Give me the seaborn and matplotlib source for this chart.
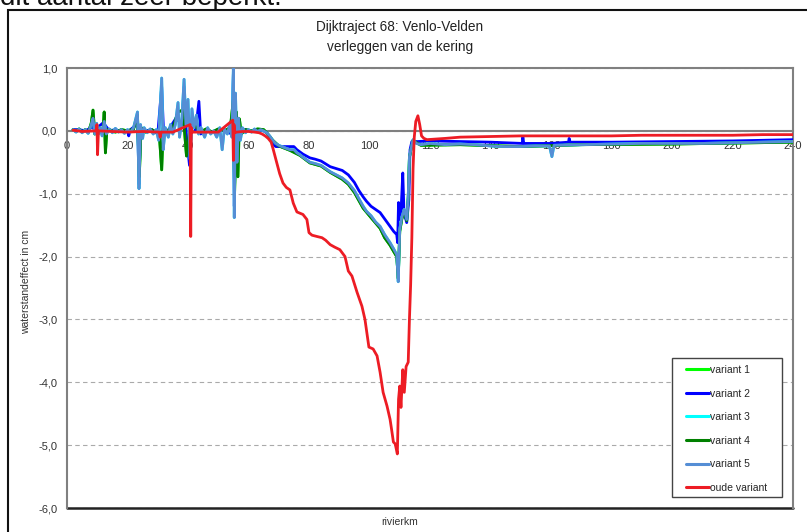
import matplotlib
matplotlib.use("Agg")
import matplotlib.pyplot as plt
import matplotlib.patches as patches
import seaborn as sns
import pandas as pd

# river km and water level effect (cm)
km_v5 = [2, 3, 4, 5, 6, 7, 8, 8.6, 9.2, 9.8, 10.4, 11, 11.6, 12.3, 13, 14, 15, 16, 17, 18,
         19, 20, 21, 22, 22.8, 23.3, 23.8, 24.3, 25, 25.5, 26.5, 27.5, 28.5, 29.5, 30.3, 31.3,
         31.8, 32.5, 33.5, 34.2, 35, 35.8, 36.7, 37.2, 38, 38.7, 39.3, 40, 40.7, 41.3, 42, 42.8,
         43.5, 44.3, 45.5, 46.5, 47.5, 48.5, 49.5, 50.5, 51.3, 52, 53, 53.8, 54.5, 55.0, 55.3,
         55.7, 56.2, 56.7, 57.3, 58, 59, 60, 61, 62, 63, 64, 65, 66,
         67, 68, 69, 70, 71, 72, 73.7, 75, 76, 77, 78, 80.3, 82, 84, 87, 89, 91, 93, 95, 96.5,
         97.9, 99, 100.5, 102, 103.5, 105, 106.8, 108, 109, 109.5, 110, 110.7, 111.5, 112.3,
         112.8, 113.2, 113.7, 114.4, 115.5, 117, 120, 125, 130, 135, 140, 145, 150, 155, 159.5,
         160.3, 161, 170, 180, 190, 200, 210, 220, 230, 240]
variant5 = [0.02, -0.02, 0.03, -0.03, 0.02, -0.04, 0.1, 0.2, -0.05, 0.12, -0.05, 0.05, -0.08, 0.15,
            -0.05, 0.03, -0.03, 0.04, -0.02, 0.02, -0.04, 0.02, -0.02, 0.05, 0.2, 0.3, -0.92, 0.1,
            -0.12, 0.05, -0.03, 0.03, -0.05, 0.02, -0.15, 0.84, -0.3, 0.05, -0.1, 0.1, -0.05, 0.1,
            0.45, -0.1, 0.2, 0.82, 0.1, 0.5, -0.45, 0.35, 0.05, 0.25, -0.05, 0.05, -0.1, 0.05,
            -0.05, 0.0, -0.1, 0.05, -0.3, 0.03, -0.05, 0.1, -0.1, 1.0, -1.38, 0.6, -0.5, 0.2,
            -0.15, 0.05, -0.03, 0.02, -0.02, 0.03, -0.01, 0.02, 0.0, -0.03,
            -0.08, -0.15, -0.2, -0.23, -0.25, -0.27, -0.3, -0.3, -0.35, -0.38, -0.42, -0.5, -0.52,
            -0.55, -0.65, -0.7, -0.75, -0.83, -0.95, -1.08, -1.2, -1.28, -1.35, -1.45, -1.52,
            -1.65, -1.78, -1.88, -1.97, -2.4, -1.57, -1.37, -1.25, -1.41, -1.05, -0.41, -0.3,
            -0.14, -0.2, -0.22, -0.2, -0.22, -0.21, -0.22, -0.24, -0.25, -0.25, -0.24, -0.24,
            -0.41, -0.23, -0.22, -0.21, -0.2, -0.2, -0.2, -0.19, -0.18, -0.17]

km_v4 = [2, 3, 4, 5, 6, 7, 8, 8.6, 9.2, 10, 11, 11.8, 12.3, 12.7, 13.2, 14, 16, 18, 20, 22,
         23.3, 23.9, 24.5, 26, 28, 30.5, 31.3, 31.8, 33, 35, 36.7, 38.3, 39.5, 40.5, 42, 44,
         46, 48, 50, 52, 54, 55.0, 55.4, 56.0, 56.5, 57.0, 57.6, 59, 61, 63, 65, 66,
         68, 70, 73.7, 77, 80.3, 84, 87, 91, 93, 95, 97.9, 100.5, 103.5, 105, 106.8, 108, 109,
         109.5, 110, 110.7, 111.5, 112.3, 112.8, 113.2, 113.7, 114.4, 117, 130, 150, 170, 200, 240]
variant4 = [0.02, -0.01, 0.03, -0.02, 0.02, -0.03, 0.12, 0.33, -0.05, 0.05, 0.0, -0.05, 0.3,
            -0.35, 0.02, 0.02, -0.02, 0.02, 0.0, 0.03, 0.25, -0.73, 0.05, -0.02, 0.02, -0.05,
            -0.62, 0.05, 0.0, 0.05, 0.3, 0.33, -0.4, 0.0, 0.1, -0.02, 0.03, -0.02, 0.03, 0.0,
            0.05, 0.5, -1.0, 0.3, -0.73, 0.19, -0.05, 0.02, 0.0, 0.03, 0.02, -0.03,
            -0.15, -0.24, -0.31, -0.39, -0.51, -0.56, -0.66, -0.77, -0.85, -0.98, -1.23, -1.38,
            -1.55, -1.7, -1.82, -1.92, -2.0, -2.35, -1.6, -1.4, -1.27, -1.43, -1.07, -0.42,
            -0.3, -0.15, -0.23, -0.22, -0.25, -0.22, -0.21, -0.18]

km_v2 = [2, 4, 6, 8, 8.6, 9.2, 10, 12, 14, 16, 18, 20, 20.4, 21, 23, 23.3, 23.8, 24.3, 26, 28,
         30, 31.3, 32, 34, 36, 38, 38.7, 39.5, 40.5, 41.3, 42.5, 43.6, 44.2, 46, 48, 50,
         52, 54.5, 55.0, 55.3, 55.8, 57, 59, 61, 63, 65, 66,
         67, 68, 69, 71, 73.7, 75, 76, 78, 80.3, 82, 84, 87, 89, 91, 93, 95, 96.5, 97.9, 99,
         100.5, 102, 103.5, 105, 106.8, 108, 109, 109.3, 109.6, 110.1, 110.5, 111, 111.4,
         112.3, 113, 113.4, 114, 116, 120, 130, 140, 150.5, 150.7, 151, 160, 165.8, 166, 166.3,
         180, 200, 220, 240]
variant2 = [0.02, 0.02, 0.0, 0.05, 0.08, -0.03, 0.05, 0.13, 0.0, 0.02, -0.01, 0.0, -0.08,
            0.02, 0.1, 0.25, -0.85, 0.05, 0.0, 0.02, -0.05, 0.7, -0.1, 0.05, 0.2, 0.1, 0.7,
            -0.1, -0.55, 0.2, 0.0, 0.47, -0.05, 0.02, -0.02, 0.02, 0.0, -0.05, 0.9, -1.2,
            0.3, 0.0, 0.02, -0.01, 0.02, 0.0, -0.03,
            -0.1, -0.2, -0.25, -0.25, -0.25, -0.25, -0.3, -0.37, -0.43, -0.45, -0.48, -0.57,
            -0.6, -0.63, -0.7, -0.82, -0.95, -1.05, -1.12, -1.2, -1.25, -1.3, -1.4, -1.52,
            -1.6, -1.65, -1.78, -1.14, -1.41, -1.2, -0.67, -1.3, -1.46, -1.1, -0.3, -0.17,
            -0.17, -0.16, -0.17, -0.18, -0.2, -0.1, -0.2, -0.2, -0.18, -0.12, -0.18, -0.18,
            -0.17, -0.16, -0.14]

# variants 1 and 3 lie under variants 4 and 5 in the reference
km_v1, variant1 = km_v4, variant4
km_v3, variant3 = km_v5, variant5

km_oud = [2, 5, 9.6, 9.9, 10.1, 10.4, 15, 20, 25, 30.5, 30.8, 31.1, 35, 40.7, 40.9, 41.1, 41.4,
          45, 50, 54.8, 55.0, 55.2, 55.5, 56, 58, 60, 62, 63.5, 64.5, 65.5, 66.5, 67.5, 68.2,
          69.3, 70.3, 71.4, 72.5, 73.7, 74.8, 76, 78, 79.3, 80, 81, 82.6, 84.3, 85.5, 87, 88.5,
          90.2, 91.9, 93, 94.2, 95.9, 97.5, 98.5, 99.8, 101.2, 102.5, 103.5, 104.5, 105.8,
          106.8, 107.3, 107.9, 108.5, 109.2, 109.6, 110.0, 110.4, 111, 111.5, 112.1, 112.8,
          113.2, 113.6, 114.0, 114.4, 114.8, 115.3, 116.0, 116.6, 117.2, 118, 119, 122, 125,
          130, 140, 150, 160, 170, 180, 190, 200, 210, 220, 230, 240]
oude_variant = [0.01, -0.01, 0.0, 0.1, -0.38, 0.0, -0.01, -0.02, -0.01, -0.02, -0.1, -0.02,
                -0.02, 0.1, -1.68, 0.05, -0.02, -0.02, -0.02, 0.17, -0.47, 0.1, -0.03, -0.02,
                -0.01, -0.01, -0.02, -0.03, -0.05, -0.08, -0.12, -0.18, -0.3, -0.5, -0.68,
                -0.83, -0.9, -0.94, -1.15, -1.29, -1.33, -1.41, -1.62, -1.66, -1.68, -1.7,
                -1.74, -1.81, -1.85, -1.89, -2.0, -2.23, -2.31, -2.57, -2.79, -3.0, -3.44,
                -3.47, -3.58, -3.84, -4.16, -4.38, -4.59, -4.75, -4.95, -4.98, -5.14, -4.27,
                -4.06, -4.4, -3.8, -4.16, -3.75, -3.68, -3.0, -2.45, -1.7, -0.6, -0.1, 0.15,
                0.24, 0.1, -0.08, -0.12, -0.14, -0.13, -0.12, -0.1, -0.09, -0.08, -0.08, -0.08,
                -0.08, -0.07, -0.07, -0.07, -0.07, -0.06, -0.06]

names = ["variant 1", "variant 2", "variant 3", "variant 4", "variant 5", "oude variant"]
colors = ["#00FF00", "#0000FF", "#00FFFF", "#008000", "#558ED5", "#ED1C24"]
y_ticks = [1, 0, -1, -2, -3, -4, -5, -6]
y_labels = ["1,0", "0,0", "-1,0", "-2,0", "-3,0", "-4,0", "-5,0", "-6,0"]
x_ticks = list(range(0, 241, 20))

frames = []
for name, xs, ys in zip(names,
                        [km_v1, km_v2, km_v3, km_v4, km_v5, km_oud],
                        [variant1, variant2, variant3, variant4, variant5, oude_variant]):
    frames.append(pd.DataFrame({"km": xs, "effect": ys, "serie": name}))
df = pd.concat(frames, ignore_index=True)

sns.set_style("white")
plt.rcParams["font.family"] = ["Liberation Sans", "DejaVu Sans"]

W, H = 807, 532
fig = plt.figure(figsize=(W / 100, H / 100), dpi=100)
ax = fig.add_axes([67 / W, 1 - 508 / H, (793 - 67) / W, (508 - 68) / H])

sns.lineplot(data=df, x="km", y="effect", hue="serie", hue_order=names,
             palette=dict(zip(names, colors)), sort=False, estimator=None,
             linewidth=2, ax=ax, zorder=3)

ax.set_xlim(0, 240)
ax.set_ylim(-6, 1)
ax.set_xticks(x_ticks)
ax.set_xticklabels([str(t) for t in x_ticks])
ax.set_yticks(y_ticks)
ax.set_yticklabels(y_labels)
ax.tick_params(axis="x", length=0, pad=7, labelsize=8, colors="#333333")
ax.tick_params(axis="y", length=0, pad=7, labelsize=8, colors="#333333")
ax.set_xlabel("")
ax.set_ylabel("")
ax.grid(axis="y", linestyle=(0, (4, 3)), color="#aaaaaa", linewidth=0.8)

ax.spines["bottom"].set_position(("data", 0))
for side in ["left", "right", "top", "bottom"]:
    ax.spines[side].set_color("#808080")
    ax.spines[side].set_linewidth(1.5)
    ax.spines[side].set_zorder(1)
ax.axhline(-6, color="#222222", linewidth=1.8, clip_on=False, zorder=1)

# legend entries without frame, box drawn separately (Excel style padding)
ax.add_patch(patches.Rectangle((672 / W, 1 - 497 / H), 110 / W, 139 / H,
                               transform=fig.transFigure, facecolor="white",
                               edgecolor="#444444", linewidth=1.0, zorder=4))
leg = ax.legend(loc="upper left", bbox_to_anchor=(686 / W, 1 - 365 / H),
                bbox_transform=fig.transFigure, fontsize=7.5, frameon=False,
                labelspacing=1.3, handlelength=2.2, handletextpad=0.15,
                borderpad=0, borderaxespad=0)
for line in leg.get_lines():
    line.set_linewidth(2.2)
leg.set_zorder(5)

fig.text(400 / W, 1 - 27 / H, "Dijktraject 68: Venlo-Velden", ha="center", va="center",
         fontsize=9.8, color="#222222")
fig.text(400 / W, 1 - 47 / H, "verleggen van de kering", ha="center", va="center",
         fontsize=9.8, color="#222222")
fig.text(26 / W, 1 - 282 / H, "waterstandeffect in cm", rotation=90, ha="center",
         va="center", fontsize=7.5, color="#333333")
fig.text(400 / W, 1 - 522 / H, "rivierkm", ha="center", va="center", fontsize=7.5,
         color="#333333")
fig.text(0.0, 1 - 5 / H, "dit aantal zeer beperkt.", ha="left", va="baseline",
         fontsize=20, color="#111111")

fig.patches.append(patches.Rectangle((8 / W, -0.01), 1.0, 1 - 10 / H + 0.01,
                                     transform=fig.transFigure, fill=False,
                                     edgecolor="#111111", linewidth=1.5))

fig.savefig("out.png", dpi=100, facecolor="white")
